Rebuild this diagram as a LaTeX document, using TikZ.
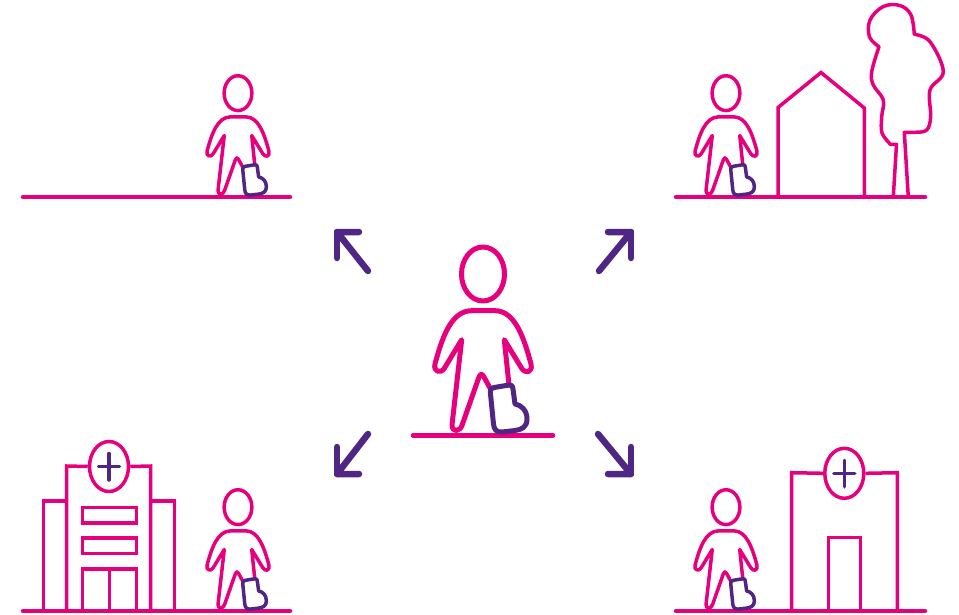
\documentclass[tikz,border=0pt]{standalone}
\usepackage{xcolor}
\usepackage{tikz}
\usetikzlibrary{shapes.geometric, positioning, calc}

\definecolor{kidpink}{HTML}{E6007E}
\definecolor{castpurple}{HTML}{4F2683}

\tikzset{
    pics/kid/.style={code={
        \draw [kidpink] (0,-161) ellipse (21.5 and 27);
        \draw [kidpink] (7,-47) -- (1,-58) .. controls (-1,-61.5) and (-2.5,-61.5) .. (-4,-58)
            -- (-20.5,-11) .. controls (-22.5,-3) and (-31,-2) .. (-31,-10)
            -- (-21.3,-95.3) -- (-38.5,-67) .. controls (-42,-61) and (-50,-63) .. (-48,-71)
            .. controls (-41,-97) and (-32,-124.3) .. (-11.3,-124.3) -- (12,-124.3)
            .. controls (32,-124.3) and (41,-97) .. (48,-71)
            .. controls (50,-62) and (42,-61) .. (38.5,-67) -- (21.3,-95.3) -- (26,-50);
        \draw [castpurple] (7.5,-41) .. controls (7,-46) and (8,-47) .. (11,-47.5)
            -- (26,-50) .. controls (29,-50.3) and (30,-49) .. (30,-46)
            -- (32,-31) .. controls (38,-30) and (44,-25) .. (44,-16)
            .. controls (44,-8) and (39,-5.5) .. (32,-4.5)
            -- (19,-3) .. controls (13,-2.5) and (11,-6) .. (10.5,-11) -- cycle;
    }}
}

\begin{document}
\begin{tikzpicture}[
        x=1pt, y=-1pt,
        thin line/.style={line width=3.5pt, line join=round, line cap=round},
        bold line/.style={line width=5pt, line join=round, line cap=round},
        ground/.style={kidpink, line width=4.5pt, line cap=round},
        building/.style={kidpink, line width=3.5pt, line join=miter},
        signoval/.style={ellipse, draw=kidpink, fill=white, line width=3.5pt, minimum width=39pt, minimum height=50pt, inner sep=0pt},
        windowbox/.style={rectangle, draw=kidpink, line width=3.5pt, minimum width=54pt, minimum height=15.5pt, inner sep=0pt},
        plus/.style={castpurple, line width=3.5pt, line cap=round},
        bigarrow/.style={castpurple, line width=6.5pt, line join=round, line cap=round}
    ]
    \useasboundingbox (0,0) rectangle (959,614);

    % the four ground lines and the middle one
    \draw [ground] (23,197) -- (290,197);
    \draw [ground] (676,197) -- (925,197);
    \draw [ground] (23,611) -- (290,611);
    \draw [ground] (676,611) -- (925,611);
    \draw [ground] (413,435.5) -- (553,435.5);

    % children
    \pic [bold line] at (483,435) {kid};
    \pic [thin line, scale=0.645] at (238,197) {kid};
    \pic [thin line, scale=0.645] at (726,197) {kid};
    \pic [thin line, scale=0.645] at (238,611) {kid};
    \pic [thin line, scale=0.645] at (726,611) {kid};

    % arrows
    \foreach \tailx/\taily/\cornerx/\cornery/\legx/\legy in {
        368/271/337/232/359/258,
        599/271/631/232/608/258,
        368/434/337/474/359/447,
        598/434/631/474/608/447} {
        \draw [bigarrow] (\tailx,\taily) -- (\cornerx,\cornery) -- (\legx,\cornery);
        \draw [bigarrow] (\cornerx,\cornery) -- (\cornerx,\legy);
    }

    % hospital
    \node (hospsign) [signoval] at (109,466.5) {};
    \node (window1) [windowbox] at (109.5,515) {};
    \node (window2) [windowbox] at (109.5,545.5) {};
    \draw [building] (hospsign.west) -- (66.7,466) -- (66.7,611);
    \draw [building] (hospsign.east) -- (150.7,466) -- (150.7,611);
    \draw [building] (66.7,501) -- (43.3,501) -- (43.3,611);
    \draw [building] (150.7,501) -- (174.3,501) -- (174.3,611);
    \draw [building] (82.3,611) -- (82.3,569) -- (136.7,569) -- (136.7,611);
    \draw [building] (109.5,569) -- (109.5,611);
    \draw [plus] ($(hospsign.center)+(-10.5,0)$) -- ($(hospsign.center)+(10.5,0)$);
    \draw [plus] ($(hospsign.center)+(0,-13)$) -- ($(hospsign.center)+(0,13.5)$);

    % house
    \draw [building] (778,197) -- (778,107.5) -- (821,72.5) -- (864.3,108) -- (864.3,197);

    % tree
    \draw [kidpink, line width=3.5pt, line join=round] (893.3,197) -- (896.5,144.3) -- (890.5,144.3)
        -- plot [smooth, tension=0.6] coordinates {(890.5,144.3) (882,133) (881.7,116.7) (883.3,100) (873.3,85) (871.7,71.7) (879,46.7)}
        -- plot [smooth, tension=0.6] coordinates {(879,46.7) (869.5,37) (870,20) (883.3,6.5) (900,5.5) (911,15) (914.3,34.3)}
        -- plot [smooth, tension=0.6] coordinates {(914.3,34.3) (930,41.7) (943.3,71.7) (930,90) (930.7,116.7) (926.7,130) (915,132.3) (904.3,132.3)}
        -- (908.3,197);

    % clinic
    \node (clinicsign) [signoval] at (844.3,473.3) {};
    \draw [building] (clinicsign.west) -- (791.7,472.7) -- (791.7,611);
    \draw [building] (clinicsign.east) -- (897.3,472.7) -- (897.3,611);
    \draw [building] (828.3,611) -- (828.3,537.7) -- (860.3,537.7) -- (860.3,611);
    \draw [plus] ($(clinicsign.center)+(-10.5,0)$) -- ($(clinicsign.center)+(10.5,0)$);
    \draw [plus] ($(clinicsign.center)+(0,-13)$) -- ($(clinicsign.center)+(0,13.5)$);

\end{tikzpicture}
\end{document}
